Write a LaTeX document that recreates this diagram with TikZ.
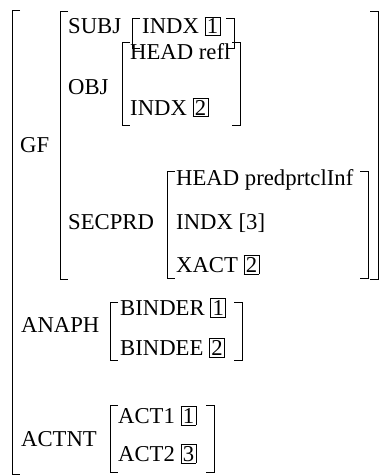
\documentclass[tikz,border=0pt]{standalone}
\usepackage{fontspec}
\setmainfont{Liberation Serif}
\newcommand\bx[1]{{\setlength\fboxsep{1.5pt}\setlength\fboxrule{0.7pt}\fbox{#1}}}
\newcommand\avmL[3]{\draw[brk] (#1+8,#2) -- (#1,#2) -- (#1,#3) -- (#1+8,#3);}
\newcommand\avmR[3]{\draw[brk] (#1-8,#2) -- (#1,#2) -- (#1,#3) -- (#1-8,#3);}
\begin{document}
\begin{tikzpicture}[x=1pt,y=-1pt]
\tikzset{
  txt/.style={anchor=base west, inner sep=0pt, font=\fontsize{22.7}{27}\selectfont},
  brk/.style={line width=0.8pt, line cap=butt}
}
\useasboundingbox (0,0) rectangle (379,476);
% brackets
\avmL{12}{10}{474}
\avmL{60}{11}{279}
\avmR{378.4}{11}{279}
\avmL{132}{18}{48}
\avmR{234}{18}{48}
\avmL{122}{42}{125}
\avmR{240}{42}{125}
\avmL{167}{171}{278}
\avmR{368}{171}{278}
\avmL{110}{302}{360}
\avmR{242}{302}{360}
\avmL{110}{405}{472}
\avmR{214}{405}{472}
% labels
\node[txt] (gf) at (20,152) {GF};
\node[txt] (subj) at (68,34) {SUBJ};
\node[txt] (subjindx) at (142,34) {INDX \bx{1}};
\node[txt] (obj) at (68,95) {OBJ};
\node[txt] (objhead) at (130,60) {HEAD refl};
\node[txt] (objindx) at (130,115) {INDX \bx{2}};
\node[txt] (secprd) at (68,229) {SECPRD};
\node[txt] (sphead) at (176,185) {HEAD predprtclInf};
\node[txt] (spindx) at (176,229) {INDX [3]};
\node[txt] (spxact) at (176,272) {XACT \bx{2}};
\node[txt] (anaph) at (21,332) {ANAPH};
\node[txt] (binder) at (120,315) {BINDER \bx{1}};
\node[txt] (bindee) at (120,355) {BINDEE \bx{2}};
\node[txt] (actnt) at (21,446) {ACTNT};
\node[txt] (act1) at (118,423) {ACT1 \bx{1}};
\node[txt] (act2) at (118,461) {ACT2 \bx{3}};
\end{tikzpicture}
\end{document}
